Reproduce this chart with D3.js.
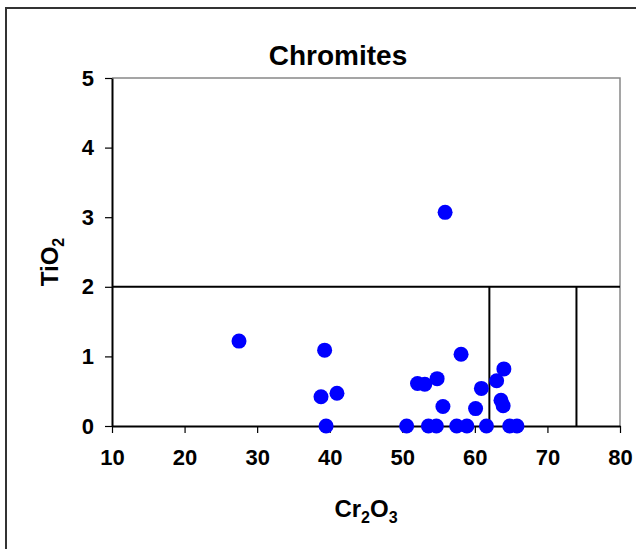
<!DOCTYPE html>
<html>
<head>
<meta charset="utf-8">
<script src="https://cdn.jsdelivr.net/npm/d3@7"></script>
<style>
  body { margin: 0; background: #fff; }
  text { font-family: Arial, "Liberation Sans", sans-serif; font-weight: bold; fill: #000; }
</style>
</head>
<body>
<div id="chart"></div>
<script>
// Cr2O3 (x) and TiO2 (y) of the chromite analyses
const cr2o3 = [27.5, 39.3, 38.8, 41.0, 39.5, 55.9, 58.1, 64.0, 63.0, 60.9, 52.1, 53.1, 54.8,
               55.6, 60.1, 63.6, 63.9, 50.6, 53.6, 54.7, 57.5, 58.9, 61.6, 64.8, 65.8];
const tio2 = [1.22, 1.09, 0.42, 0.47, 0, 3.07, 1.03, 0.82, 0.65, 0.54, 0.61, 0.60, 0.68,
              0.28, 0.25, 0.37, 0.29, 0, 0, 0, 0, 0, 0, 0, 0];

const xTicks = [10, 20, 30, 40, 50, 60, 70, 80];
const yTicks = [0, 1, 2, 3, 4, 5];

// field boundaries: TiO2 = 2 across, Cr2O3 = 62 and 74 below it
const boundaryTi = 2;
const boundaryCr = [62, 74];

class ChromiteChart {

    constructor () {
        this.width = 636;
        this.height = 549;
        this.margin = {top: 78, right: 16, bottom: 123, left: 112};

        this.svg = d3.select("#chart").append("svg")
            .attr("width", this.width)
            .attr("height", this.height);

        this.x = d3.scaleLinear().domain([10, 80])
            .range([this.margin.left, this.width - this.margin.right]);
        this.y = d3.scaleLinear().domain([0, 5])
            .range([this.height - this.margin.bottom, this.margin.top]);

        this.update();
    };

    update () {
        let svg = this.svg, x = this.x, y = this.y;

        // outer chart frame (runs off the right and bottom edges)
        svg.append("rect")
            .attr("x", 6).attr("y", 8)
            .attr("width", 700).attr("height", 600)
            .attr("fill", "none")
            .attr("stroke", "#333")
            .attr("stroke-width", 2);

        // plot area frame, top and right
        svg.append("path")
            .attr("d", `M${x(10)},${y(5)}H${x(80)}V${y(0)}`)
            .attr("fill", "none")
            .attr("stroke", "#888")
            .attr("stroke-width", 1.5);

        svg.append("text")
            .attr("x", 338).attr("y", 65)
            .attr("text-anchor", "middle")
            .style("font-size", "28px")
            .text("Chromites");

        // boundaries
        svg.append("line")
            .attr("x1", x(10)).attr("x2", x(80))
            .attr("y1", y(boundaryTi)).attr("y2", y(boundaryTi))
            .attr("stroke", "#000").attr("stroke-width", 2);
        svg.selectAll(".vb").data(boundaryCr).enter().append("line")
            .attr("x1", d => x(d)).attr("x2", d => x(d))
            .attr("y1", y(0)).attr("y2", y(boundaryTi))
            .attr("stroke", "#000").attr("stroke-width", 2);

        // axes
        let xAxis = svg.append("g")
            .attr("transform", `translate(0,${y(0)})`)
            .call(d3.axisBottom(x).tickValues(xTicks).tickFormat(d3.format("d"))
                .tickSize(7).tickPadding(16).tickSizeOuter(0));
        let yAxis = svg.append("g")
            .attr("transform", `translate(${x(10)},0)`)
            .call(d3.axisLeft(y).tickValues(yTicks).tickFormat(d3.format("d"))
                .tickSize(7).tickPadding(11).tickSizeOuter(0));

        [xAxis, yAxis].forEach(g => {
            g.select(".domain").attr("stroke", "#000").attr("stroke-width", 2);
            g.selectAll(".tick line").attr("stroke", "#000").attr("stroke-width", 1.2);
            g.selectAll(".tick text").style("font-size", "22px")
                .style("font-family", "Arial, 'Liberation Sans', sans-serif")
                .style("font-weight", "bold").attr("fill", "#000");
        });

        // points
        svg.append("g").selectAll("circle")
            .data(d3.range(cr2o3.length))
            .enter().append("circle")
            .attr("cx", i => x(cr2o3[i]))
            .attr("cy", i => y(tio2[i]))
            .attr("r", 7.5)
            .attr("fill", "#0000ff");

        // axis titles
        let xt = svg.append("text")
            .attr("x", 366).attr("y", 517)
            .attr("text-anchor", "middle")
            .style("font-size", "24px");
        xt.append("tspan").text("Cr");
        xt.append("tspan").attr("dy", 6).style("font-size", "16px").text("2");
        xt.append("tspan").attr("dy", -6).text("O");
        xt.append("tspan").attr("dy", 6).style("font-size", "16px").text("3");

        let yt = svg.append("text")
            .attr("transform", "translate(58,262) rotate(-90)")
            .attr("text-anchor", "middle")
            .style("font-size", "24px");
        yt.append("tspan").text("TiO");
        yt.append("tspan").attr("dy", 6).style("font-size", "16px").text("2");
    }
};

new ChromiteChart();
</script>
</body>
</html>
